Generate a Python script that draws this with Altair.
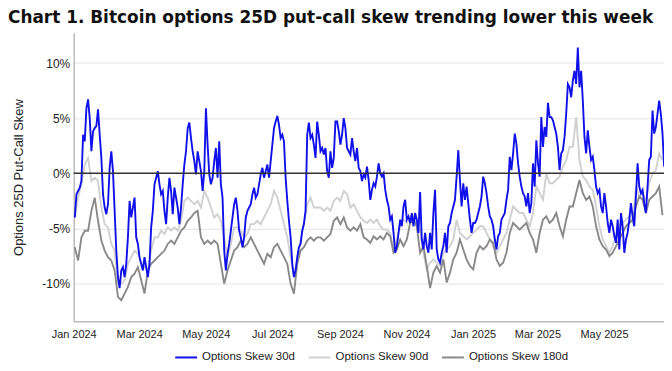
import altair as alt
import pandas as pd

SERIES = ["Options Skew 30d", "Options Skew 90d", "Options Skew 180d"]
COLORS = ["#1010ea", "#d0d0d0", "#898989"]

START = "2024-01-02"
STEP_30D = "2191min"    # spacing of the 30d readings
STEP_LONG = "4382min"   # spacing of the 90d / 180d readings

skew_30d = [
    -4.0, -1.9, -1.6, -1.3, -0.7, 3.5, 2.9, 5.9, 6.7, 5.0,
    2.0, 3.8, 4.1, 4.3, 5.8, 3.5, 1.4, -1.9, -3.1, -3.7,
    -2.8, 0.5, 2.0, 0.2, -3.4, -7.0, -9.4, -10.4, -8.8, -8.5,
    -9.4, -8.2, -5.8, -2.5, -4.0, -3.1, -2.2, -5.8, -6.4, -7.6,
    -8.2, -8.8, -7.6, -8.5, -9.4, -8.2, -4.9, -3.4, -1.0, -0.4,
    0.2, -1.0, -1.9, -1.6, -3.4, -4.6, -2.2, -0.4, -1.6, -3.7,
    -1.3, -2.2, -3.1, -4.6, -3.1, -1.0, 0.8, 2.0, 4.1, 4.6,
    3.2, 2.0, 1.1, -0.1, 2.0, 1.1, 0.2, -1.6, 0.2, 5.9,
    2.6, -0.1, -1.0, -0.4, 1.1, 2.3, -0.4, 2.9, -1.0, -2.2,
    -7.0, -8.8, -7.3, -6.4, -5.2, -4.0, -2.8, -2.2, -3.4, -5.2,
    -5.8, -6.7, -5.8, -4.0, -3.4, -3.1, -2.8, -1.9, -1.3, -2.2,
    -1.9, -1.0, -0.1, 0.5, -0.4, 0.2, 0.8, -0.4, 1.1, 2.6,
    4.1, 4.7, 5.2, 4.4, 3.2, 3.5, 2.9, -0.4, -2.5, -4.3,
    -5.8, -8.2, -9.4, -8.8, -7.6, -6.7, -6.4, -5.2, -4.6, -3.4,
    3.5, 4.6, 3.2, 3.5, 2.6, 1.4, 4.7, 3.5, 2.0, 2.3,
    1.7, 2.3, 0.2, -0.4, 2.0, 0.5, 1.4, 4.7, 4.7, 3.8,
    2.6, 3.5, 5.0, 4.1, 2.3, 2.0, 1.7, 3.2, 2.0, 1.1,
    2.3, 0.5, 0.2, -0.7, -0.1, -0.4,
    0.6, -0.6, -2.4, -1.5, -0.9, -1.2, -0.3, 0.9, 0.0, -0.3,
    0.0, -1.5, -2.4, -3.0, -4.2, -3.9, -5.4, -7.2, -6.6, -5.4,
    -4.2, -4.8, -3.0, -2.4, -4.2, -3.9, -4.5, -3.6, -4.8, -3.6,
    -4.2, -5.4, -1.7, -6.0, -6.9, -5.4, -6.6, -7.2, -5.4, -6.9,
    -3.6, -1.5, -6.9, -7.8, -8.1, -7.2, -6.6, -5.4, -7.2, -4.8,
    -4.5, -3.6, -3.0, -2.4, -0.3, 2.1, -0.6, -3.0, -0.9, -2.4,
    -1.2, -2.7, -4.2, -5.4, -4.5, -4.5, -4.2, -3.6, -3.0, -2.1,
    -0.3, -0.9, -1.8, -3.0, -3.9, -4.2, -4.8, -6.0, -6.9, -5.7,
    -5.4, -4.2, -3.9, -3.6, -2.4, -1.5, 1.5, 0.3, 1.8, 3.6,
    2.7, 0.9, -0.3, -1.2, -1.8, -2.1, -3.0, -1.8, -3.6, -2.7,
    0.9, -1.2, 3.0, 0.9, -0.3, 5.1, 2.4, 4.2, 3.3, 6.4,
    5.1, 5.1, 4.8, 4.2, 3.6, 2.4, 0.3, 1.8, 2.1, 3.3,
    5.4, 8.1, 7.8, 6.9, 8.4, 9.3, 8.1, 11.4, 7.8, 9.3,
    6.6, 3.3, 1.8, 3.9, 2.4, 1.2, 1.5, 0.3, -1.2, -1.8,
    -1.5, -3.0, -3.6, -1.8, -3.0, -4.5, -5.4, -4.2, -4.8, -5.7,
    -6.3, -4.2, -6.9, -3.6, -4.8, -7.2, -6.0, -5.4, -4.2, -2.7,
    -3.9, -4.8, -2.1, 0.9, -1.2, -1.8, -1.5, -2.7, -3.6, -1.2,
    1.2, 1.5, 5.7, 3.6, 4.2, 5.4, 6.6, 5.4, 3.6, 0.6,
]

skew_90d = [
    -4.0, -2.2, -1.0, 0.8, 1.4, -0.7, -0.4, -0.7, -3.1, -4.6,
    -4.9, -6.4, -7.0, -10.0, -10.0, -9.7, -8.2, -7.6, -7.0, -7.3,
    -8.2, -8.5, -8.8, -7.0, -5.8, -5.8, -5.2, -5.5, -4.9, -5.2,
    -4.9, -5.2, -4.3, -2.5, -2.2, -2.5, -2.8, -2.5, -3.1, -1.6,
    -2.2, -3.1, -4.0, -3.7, -4.3, -5.8, -7.6, -6.4, -4.9, -4.9,
    -5.2, -5.8, -5.5, -4.6, -4.6, -4.3, -4.6, -4.0, -3.4, -2.8,
    -1.6, -2.2, -3.4, -4.6, -5.8, -7.6, -9.4, -7.9, -6.1, -4.6,
    -2.8, -2.2, -3.1, -3.1, -3.1, -3.4, -3.1, -3.4, -2.5, -2.2,
    -2.5, -1.6, -1.9, -3.1, -2.8, -3.4, -4.0, -4.3,
    -4.5, -4.2, -4.5, -4.2, -4.8, -5.1, -5.1, -5.4, -6.9, -6.0,
    -4.8, -4.2, -4.5, -4.2, -3.9, -4.8, -5.1, -7.2, -8.7, -8.1,
    -7.8, -8.1, -8.4, -7.2, -6.9, -6.6, -6.0, -4.2, -5.4, -5.7,
    -6.0, -5.7, -5.4, -5.1, -4.8, -4.8, -5.4, -6.0, -6.6, -7.2,
    -6.6, -6.0, -5.4, -4.2, -3.0, -3.3, -3.6, -3.6, -4.2, -4.8,
    -3.6, -1.2, -1.8, -2.4, 0.0, -0.9, -0.9, -0.6, -0.3, 0.6,
    1.2, 2.4, 2.4, 5.1, 1.2, -0.3, -0.6, -1.2, -1.5, -3.0,
    -4.8, -6.0, -6.6, -7.2, -6.6, -5.7, -4.8, -4.5, -4.2, -3.9,
    -4.5, -1.2, -2.1, -1.8, -2.4, -0.9, 0.0, 0.3, 1.8, 1.2,
]

skew_180d = [
    -6.7, -7.9, -5.8, -5.2, -5.2, -3.4, -2.2, -4.3, -6.1, -7.0,
    -7.6, -7.9, -8.8, -11.2, -11.5, -10.9, -10.3, -9.4, -9.1, -8.5,
    -9.7, -10.9, -8.8, -8.2, -7.9, -7.6, -7.3, -7.0, -6.4, -6.1,
    -6.4, -5.8, -5.2, -4.9, -4.3, -4.0, -3.6, -3.4, -5.8, -6.4,
    -6.1, -6.4, -6.1, -6.4, -8.2, -10.0, -8.8, -7.9, -7.0, -6.7,
    -6.1, -6.7, -6.4, -5.8, -6.4, -7.0, -7.6, -8.2, -7.3, -7.6,
    -6.7, -6.4, -7.0, -7.6, -8.2, -10.0, -10.9, -8.2, -7.0, -6.7,
    -6.1, -5.8, -6.1, -5.8, -5.8, -6.1, -5.8, -5.5, -4.3, -4.0,
    -4.6, -4.0, -4.9, -5.2, -4.9, -5.2, -4.6, -5.8,
    -6.0, -6.3, -5.7, -6.0, -5.7, -6.0, -5.4, -5.7, -7.2, -6.9,
    -6.0, -6.6, -6.0, -4.5, -4.2, -4.8, -7.2, -6.6, -8.4, -10.4,
    -9.0, -8.4, -9.0, -7.8, -9.9, -9.0, -7.8, -7.2, -6.0, -6.9,
    -7.8, -8.4, -8.7, -7.2, -6.6, -6.9, -6.6, -6.0, -6.3, -7.8,
    -8.4, -8.1, -7.2, -5.4, -4.5, -4.8, -5.1, -4.8, -4.5, -5.4,
    -6.0, -7.2, -5.4, -4.2, -3.9, -4.5, -4.2, -3.6, -4.8, -5.7,
    -4.2, -3.0, -3.0, -1.8, -0.6, -1.8, -2.4, -2.1, -3.0, -4.8,
    -6.0, -6.6, -6.9, -7.5, -7.2, -6.6, -6.0, -5.4, -4.8, -4.5,
    -4.2, -3.0, -2.1, -2.4, -3.6, -2.4, -2.1, -1.8, -1.2, -3.8,
]

Y_TICKS = [-10, -5, 0, 5, 10]
X_TICKS = [(2024, 1), (2024, 3), (2024, 5), (2024, 7), (2024, 9), (2024, 11),
           (2025, 1), (2025, 3), (2025, 5)]
X_DOMAIN = [(2024, 1, 1), (2025, 6, 25)]
Y_DOMAIN = [-13.42, 12.75]
TITLE = "Chart 1. Bitcoin options 25D put-call skew trending lower this week"

frames = []
for name, vals, step in [(SERIES[0], skew_30d, STEP_30D),
                         (SERIES[1], skew_90d, STEP_LONG),
                         (SERIES[2], skew_180d, STEP_LONG)]:
    dates = pd.date_range(START, periods=len(vals), freq=step)
    frames.append(pd.DataFrame({"date": dates.strftime("%Y-%m-%dT%H:%M:%S"),
                                "skew": vals, "series": name}))
df = pd.concat(frames, ignore_index=True)

FONT = "Liberation Sans"

x_enc = alt.X(
    "date:T",
    scale=alt.Scale(domain=[alt.DateTime(year=y, month=m, date=d) for y, m, d in X_DOMAIN]),
    axis=alt.Axis(
        values=[alt.DateTime(year=y, month=m, date=1) for y, m in X_TICKS],
        format="%b %Y", title=None, grid=False, ticks=False, tickSize=0,
        labelPadding=7, labelFont=FONT, labelFontSize=11, labelColor="#222222",
        labelOverlap=False, labelFlush=False,
        domainColor="#9a9a9a", domainWidth=1,
    ),
)
y_enc = alt.Y(
    "skew:Q",
    scale=alt.Scale(domain=Y_DOMAIN, nice=False, zero=False),
    axis=alt.Axis(
        values=Y_TICKS, labelExpr="datum.value + '%'",
        grid=True, gridColor="#e4e4e4", gridWidth=1,
        ticks=False, tickSize=0, labelPadding=4,
        labelFont=FONT, labelFontSize=12, labelColor="#222222",
        domainColor="#9a9a9a", domainWidth=1,
        title="Options 25D Put-Call Skew", titleFont=FONT, titleFontSize=13,
        titleFontWeight="normal", titleColor="#222222",
        titleAngle=270, titleX=-55, titleY=145,
        titleAlign="center", titleBaseline="middle",
    ),
)
color_enc = alt.Color(
    "series:N",
    scale=alt.Scale(domain=SERIES, range=COLORS),
    legend=alt.Legend(
        title=None, orient="none", legendX=101, legendY=314,
        direction="horizontal", symbolType="stroke", symbolSize=484,
        symbolStrokeWidth=2, labelFont=FONT, labelFontSize=11.5,
        labelColor="#222222", labelOffset=4, columnPadding=9,
    ),
)

base = alt.Chart(df).encode(x=x_enc, y=y_enc, color=color_enc)


def series_line(name):
    return base.transform_filter(alt.datum.series == name).mark_line(
        strokeWidth=1.9, clip=True
    )


zero_rule = alt.Chart(pd.DataFrame({"skew": [0]})).mark_rule(
    color="#333333", strokeWidth=1.5
).encode(y=alt.Y("skew:Q"))

title_text = alt.Chart(pd.DataFrame({"t": [TITLE]})).mark_text(
    align="left", baseline="alphabetic", font="DejaVu Sans", fontSize=17,
    fontWeight="bold", color="#111111",
).encode(text="t:N", x=alt.value(-66), y=alt.value(-10))

chart = alt.layer(
    series_line(SERIES[1]),
    series_line(SERIES[2]),
    series_line(SERIES[0]),
    zero_rule,
    title_text,
).properties(
    width=593,
    height=290,
    padding={"left": 66, "top": 24, "right": 0, "bottom": 41},
    autosize=alt.AutoSizeParams(type="none"),
).configure_view(stroke=None)

chart.save("out.html", embed_options={"renderer": "svg", "actions": False})
